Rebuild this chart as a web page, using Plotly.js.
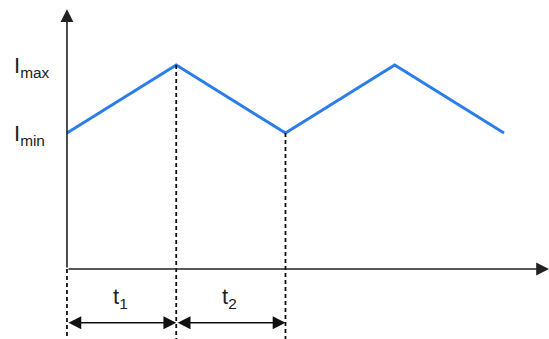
<!DOCTYPE html>
<html><head><meta charset="utf-8">
<script src="https://cdn.plot.ly/plotly-3.0.1.min.js"></script>
<style>html,body{margin:0;padding:0;background:#fff}#c{width:549px;height:339px}</style>
</head><body><div id="c"></div>
<script>
// time instants (in units of t1 = t2) and current levels
const times = [0, 1, 2, 3, 4];
const levels = ['min', 'max', 'min', 'max', 'min'];
const Imin = 2, Imax = 3;
const current = levels.map(l => l === 'max' ? Imax : Imin);
const yLabels = [{text: 'I<sub>max</sub>', y: Imax}, {text: 'I<sub>min</sub>', y: Imin}];
const intervalLabels = ['t<sub>1</sub>', 't<sub>2</sub>'];

const xr = [-0.613, 4.412], yr = [-1.029, 3.956];
const axisColor = '#222';
const font = {family: 'Liberation Sans, Arial, sans-serif', size: 22, color: '#222'};

const shapes = [];
// dashed drop lines at t=0, end of t1, end of t2
[0, 1, 2].forEach(i => {
  shapes.push({type: 'line', xref: 'x', yref: 'y', x0: times[i], x1: times[i],
    y0: i === 0 ? 0 : current[i], y1: yr[0],
    line: {color: '#111', width: 1.8, dash: '4px,3px'}});
});

const annotations = [];
// y axis arrow
annotations.push({x: 0, y: 3.82, ax: 0, ay: 0, xref: 'x', yref: 'y', axref: 'x', ayref: 'y',
  showarrow: true, arrowhead: 2, arrowsize: 1.6, arrowwidth: 1.6, arrowcolor: axisColor, text: '', standoff: 0});
// x axis arrow
annotations.push({x: xr[1], y: 0, ax: 0, ay: 0, xref: 'x', yref: 'y', axref: 'x', ayref: 'y',
  showarrow: true, arrowhead: 2, arrowsize: 1.6, arrowwidth: 1.6, arrowcolor: axisColor, text: '', standoff: 0});
// interval double arrows
const arrowY = -0.79;
[0, 1].forEach(i => {
  annotations.push({x: times[i + 1], y: arrowY, ax: times[i], ay: arrowY,
    xref: 'x', yref: 'y', axref: 'x', ayref: 'y', showarrow: true,
    arrowhead: 2, startarrowhead: 2, arrowside: 'end+start', arrowsize: 1.6, startarrowsize: 1.6,
    arrowwidth: 1.6, arrowcolor: '#111', text: '', standoff: 0, startstandoff: 0});
  annotations.push({x: (times[i] + times[i + 1]) / 2 - 0.01, y: -0.42, xref: 'x', yref: 'y',
    text: intervalLabels[i], showarrow: false, font: font});
});
// current labels
yLabels.forEach(l => {
  annotations.push({x: 12 / 549, y: l.y, xref: 'paper', yref: 'y', xanchor: 'left', yanchor: 'middle',
    text: l.text, showarrow: false, font: font, yshift: -2});
});

Plotly.newPlot('c', [{
  x: times, y: current, mode: 'lines', type: 'scatter',
  line: {color: '#2b7de9', width: 3}, hoverinfo: 'skip'
}], {
  width: 549, height: 339, margin: {l: 0, r: 0, t: 0, b: 0},
  paper_bgcolor: '#fff', plot_bgcolor: '#fff', showlegend: false,
  xaxis: {range: xr, visible: false, fixedrange: true},
  yaxis: {range: yr, visible: false, fixedrange: true},
  shapes: shapes, annotations: annotations
}, {displayModeBar: false, staticPlot: true});
</script></body></html>
